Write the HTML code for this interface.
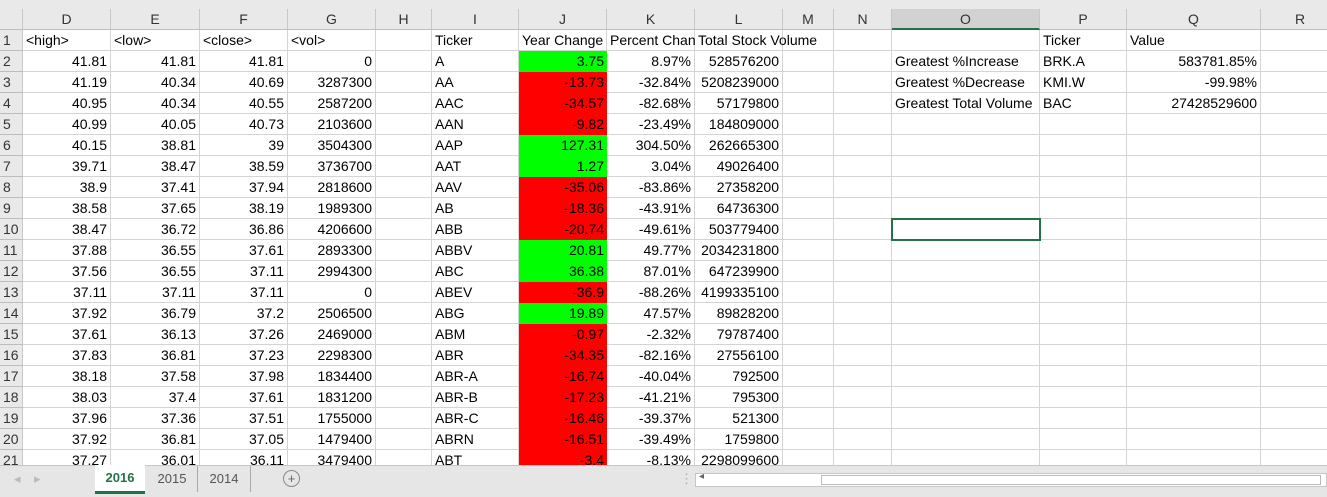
<!DOCTYPE html>
<html><head><meta charset="utf-8"><style>
html,body{margin:0;padding:0;width:1327px;height:496px;overflow:hidden;background:#fff;font-family:"Liberation Sans",sans-serif;}
.c{position:absolute;box-sizing:border-box;border-right:1px solid #d4d4d4;border-bottom:1px solid #d4d4d4;font-size:14px;line-height:19px;padding-top:1px;white-space:nowrap;overflow:visible;padding-left:3px;padding-right:3px;color:#000;}
.h{background:#e9e9e9;color:#333;text-align:center;border-right:1px solid #c8c8c8;border-bottom:1px solid #bdbdbd;font-size:14px;}
.r{text-align:right;}
</style></head><body>
<div id="top" style="position:absolute;left:0;top:0;width:1327px;height:9px;background:#e9e9e9"></div>
<div id="grid"></div>
<div style="position:absolute;left:0;top:465px;width:1327px;height:31px;background:#e6e6e6;border-top:1px solid #c6c6c6;font-size:13px;color:#555">
 <span style="position:absolute;left:14px;top:5px;color:#bbb">◂</span>
 <span style="position:absolute;left:34px;top:5px;color:#bbb">▸</span>
 <div style="position:absolute;left:95px;top:-1px;width:50px;height:26px;background:#fff;color:#217346;font-weight:bold;text-align:center;line-height:26px;border-bottom:3px solid #217346">2016</div>
 <div style="position:absolute;left:147px;top:0;width:50px;height:26px;text-align:center;line-height:26px;border-right:1px solid #aaa">2015</div>
 <div style="position:absolute;left:198px;top:0;width:52px;height:26px;text-align:center;line-height:26px;border-right:1px solid #aaa">2014</div>
 <div style="position:absolute;left:283px;top:4px;width:15px;height:15px;border:1px solid #888;border-radius:50%;text-align:center;line-height:15px;color:#666">+</div>
 <span style="position:absolute;left:680px;top:5px;color:#aaa">⋮</span>
 <div style="position:absolute;left:695px;top:7px;width:632px;height:14px;background:#fff;border:1px solid #c6c6c6;box-sizing:border-box"><span style="position:absolute;left:3px;top:-3px;font-size:10px;color:#666">◂</span><div style="position:absolute;left:125px;top:1px;width:500px;height:10px;border:1px solid #bbb;box-sizing:border-box;background:#fff"></div></div>
</div>
<script>
const colNames=["D","E","F","G","H","I","J","K","L","M","N","O","P","Q","R"];
const colX=[23,111,200,288,376,432,519,607,695,783,834,892,1040,1127,1261,1340];
const high=[41.81,41.19,40.95,40.99,40.15,39.71,38.9,38.58,38.47,37.88,37.56,37.11,37.92,37.61,37.83,38.18,38.03,37.96,37.92,37.27];
const low=[41.81,40.34,40.34,40.05,38.81,38.47,37.41,37.65,36.72,36.55,36.55,37.11,36.79,36.13,36.81,37.58,37.4,37.36,36.81,36.01];
const close=[41.81,40.69,40.55,40.73,39,38.59,37.94,38.19,36.86,37.61,37.11,37.11,37.2,37.26,37.23,37.98,37.61,37.51,37.05,36.11];
const vol=[0,3287300,2587200,2103600,3504300,3736700,2818600,1989300,4206600,2893300,2994300,0,2506500,2469000,2298300,1834400,1831200,1755000,1479400,3479400];
const tickers=["A","AA","AAC","AAN","AAP","AAT","AAV","AB","ABB","ABBV","ABC","ABEV","ABG","ABM","ABR","ABR-A","ABR-B","ABR-C","ABRN","ABT"];
const yearChange=[3.75,-13.73,-34.57,-9.82,127.31,1.27,-35.06,-18.36,-20.74,20.81,36.38,-36.9,19.89,-0.97,-34.35,-16.74,-17.23,-16.46,-16.51,-3.4];
const pctChange=["8.97%","-32.84%","-82.68%","-23.49%","304.50%","3.04%","-83.86%","-43.91%","-49.61%","49.77%","87.01%","-88.26%","47.57%","-2.32%","-82.16%","-40.04%","-41.21%","-39.37%","-39.49%","-8.13%"];
const totalVol=[528576200,5208239000,57179800,184809000,262665300,49026400,27358200,64736300,503779400,2034231800,647239900,4199335100,89828200,79787400,27556100,792500,795300,521300,1759800,2298099600];
const g=document.getElementById('grid');
function cell(x,y,w,h,txt,cls,name,bg){const d=document.createElement('div');d.className='c '+(cls||'');d.style.left=x+'px';d.style.top=y+'px';d.style.width=w+'px';d.style.height=h+'px';if(bg)d.style.background=bg;d.textContent=txt;


g.appendChild(d);return d;}
const rowTop=n=>30+(n-1)*21;
cell(0,9,23,21,'','h','select-all-corner');
colNames.forEach((c,i)=>{const d=cell(colX[i],9,colX[i+1]-colX[i],21,c,'h','column-header-'+c.toLowerCase());if(c==='O'){d.style.borderBottom='2px solid #217346';d.style.background='#d2d2d2';}});
for(let n=1;n<=21;n++){const d=cell(0,rowTop(n),23,21,n,'h','row-header-'+n);d.style.textAlign='left';d.style.paddingLeft='3px';}
for(let n=1;n<=21;n++)for(let i=0;i<colNames.length;i++){if(colNames[i]==='J'&&n>1)continue;cell(colX[i],rowTop(n),colX[i+1]-colX[i],21,'','', 'cell-'+colNames[i].toLowerCase()+n);}
const hdr={D:"<high>",E:"<low>",F:"<close>",G:"<vol>",I:"Ticker",J:"Year Change",K:"Percent Chan",L:"Total Stock Volume",P:"Ticker",Q:"Value"};
function cx(c){return colX[colNames.indexOf(c)];}function cw(c){const i=colNames.indexOf(c);return colX[i+1]-colX[i];}
for(const k in hdr){const d=cell(cx(k),rowTop(1),cw(k),21,hdr[k],'','header-'+hdr[k].replace(/[<> ]/g,'').toLowerCase());d.style.borderRight='none';d.style.overflow='hidden';if(k==='L')d.style.overflow='visible';}
for(let r=0;r<20;r++){const n=r+2,y=rowTop(n);
cell(cx('D'),y,cw('D'),21,high[r],'r','high-value');
cell(cx('E'),y,cw('E'),21,low[r],'r','low-value');
cell(cx('F'),y,cw('F'),21,close[r],'r','close-value');
cell(cx('G'),y,cw('G'),21,vol[r],'r','vol-value');
cell(cx('I'),y,cw('I'),21,tickers[r],'','ticker-'+tickers[r].toLowerCase());
const j=cell(cx('J'),y,cw('J'),21,yearChange[r],'r','year-change-'+tickers[r].toLowerCase(),yearChange[r]>=0?'#00ff00':'#ff0000');j.style.borderRight='none';j.style.borderBottom='none';j.style.height='21px';
cell(cx('K'),y,cw('K'),21,pctChange[r],'r','percent-change');
cell(cx('L'),y,cw('L'),21,totalVol[r],'r','total-volume');}
const sumLabels=["Greatest %Increase","Greatest %Decrease","Greatest Total Volume"];
const sumTick=["BRK.A","KMI.W","BAC"];
const sumVal=["583781.85%","-99.98%","27428529600"];
for(let r=0;r<3;r++){const y=rowTop(r+2);
const d=cell(cx('O'),y,cw('O'),21,sumLabels[r],'','summary-label');d.style.overflow='hidden';
cell(cx('P'),y,cw('P'),21,sumTick[r],'','summary-ticker');
cell(cx('Q'),y,cw('Q'),21,sumVal[r],'r','summary-value');}
const sel=document.createElement('div');sel.style.cssText='position:absolute;left:891px;top:'+(rowTop(10)-1)+'px;width:150px;height:23px;border:2px solid #217346;box-sizing:border-box';


g.appendChild(sel);
</script>
</body></html>
